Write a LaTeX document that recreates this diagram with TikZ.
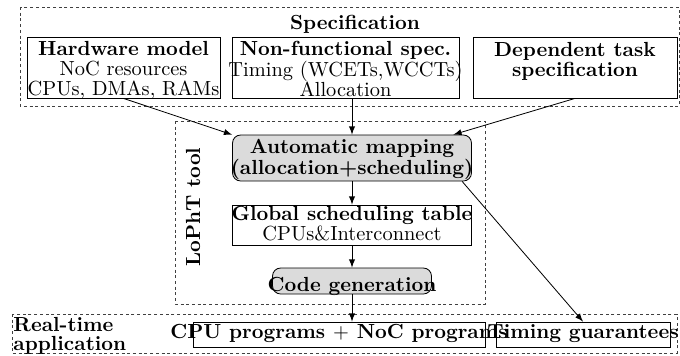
\documentclass[tikz,border=0pt]{standalone}
\usepackage{amsmath, amssymb}
\usepackage[usenames, dvipsnames]{xcolor}
\usetikzlibrary{arrows}

% text of a box, lowered by #1, that may stick out of the box
\newcommand{\boxtxt}[2][-2.5pt]{\makebox[0pt]{\raisebox{#1}[0pt][0pt]{\begin{tabular}{@{}c@{}}#2\end{tabular}}}}
\tikzset{%
  grp/.style={draw=black!75, dash pattern=on 1.5pt off 1.3pt},%
  blk/.style={draw, inner sep=0pt, font=\fontsize{10}{9}\selectfont},%
  rblk/.style={blk, rounded corners=4pt, fill=black!14},%
  sz/.style 2 args={minimum width=#1*0.49pt, minimum height=#2*0.49pt},%
  lnk/.style={-latex},%
}

\begin{document}
\begin{tikzpicture}[x=0.49pt,y=-0.49pt]%
\useasboundingbox (0,0) rectangle (680,356);%
% specification
\draw[grp] (20,7) rectangle (679,106);%
\node[font=\bfseries] (spec) at (355,24) {Specification};%
\node[blk, sz={193}{61}] (hw) at (123.5,67.5) {\boxtxt[-4.5pt]{\textbf{Hardware model}\\NoC resources\\CPUs, DMAs, RAMs}};%
\node[blk, sz={227}{61}] (nonfunc) at (345.5,67.5) {\boxtxt[-4.5pt]{\textbf{Non-functional spec.}\\Timing (WCETs,WCCTs)\\Allocation}};%
\node[blk, sz={204}{61}] (dep) at (575,67.5) {\boxtxt[-4.5pt]{\textbf{Dependent task}\\\textbf{specification}\\\mbox{}}};%
% the tool
\draw[grp] (175,121) rectangle (485,304);%
\node[rotate=90, font=\bfseries] (lopht) at (193,207) {LoPhT tool};%
\node[rblk, sz={239}{46}] (auto) at (352,158) {\boxtxt[-3.2pt]{\textbf{Automatic mapping}\\\textbf{(allocation+scheduling)}}};%
\node[blk, sz={239}{40}] (global) at (352,225) {\boxtxt[-3.2pt]{\textbf{Global scheduling table}\\CPUs\&Interconnect}};%
\node[rblk, sz={159}{26}] (code) at (352,281) {\boxtxt[-5.5pt]{\textbf{Code generation}}};%
% real-time application
\draw[grp] (12,314) rectangle (677,353);%
\node[anchor=west, align=left, inner sep=0pt, font=\fontsize{10}{9}\selectfont\bfseries] (rt) at (13,336) {Real-time\\application};%
\node[blk, sz={292}{25}] (cpu) at (339,334.5) {\boxtxt{\textbf{CPU programs $+$ NoC programs}}};%
\node[blk, sz={174}{25}] (timing) at (583,334.5) {\boxtxt{\textbf{Timing guarantees}}};%
% links
\draw[lnk] (hw.south) -- (auto.169);%
\draw[lnk] (auto.north |- nonfunc.south) -- (auto.north);%
\draw[lnk] (dep.south) -- (auto.13);%
\draw[lnk] (auto) -- (global);%
\draw[lnk] (global) -- (code);%
\draw[lnk] (code) -- (code |- cpu.north);%
\draw[lnk] (auto.-12) -- (timing.north);%
\end{tikzpicture}
\end{document}
